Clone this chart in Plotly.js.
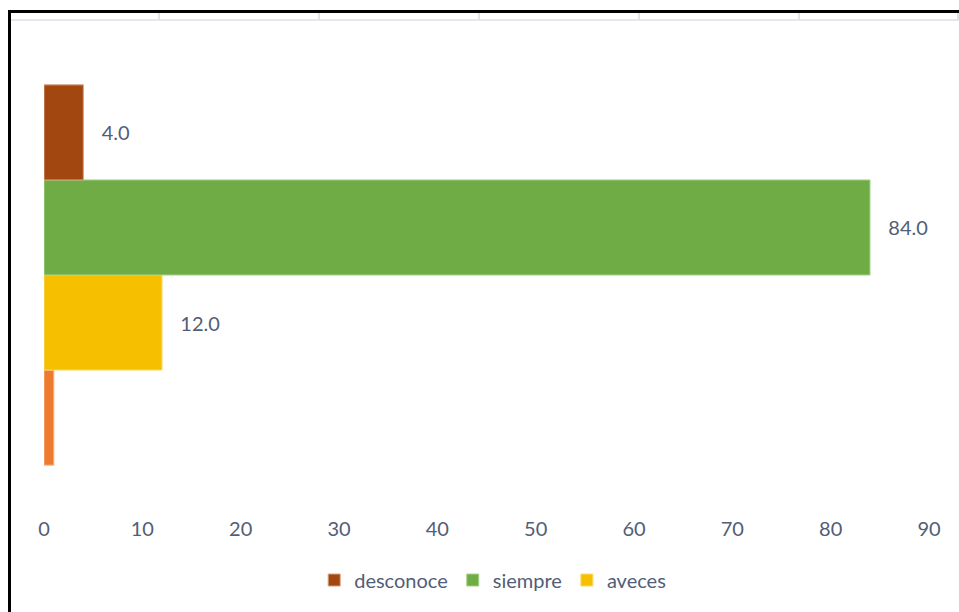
<!DOCTYPE html>
<html>
<head>
<meta charset="utf-8">
<script src="https://cdn.plot.ly/plotly-3.0.1.min.js"></script>
<style>
  html, body { margin: 0; padding: 0; background: #ffffff; }
  #wrap { position: relative; width: 959px; height: 612px; overflow: hidden; }
  #chart { position: absolute; left: 0; top: 0; width: 959px; height: 612px; }
  #frame { position: absolute; left: 8px; top: 10px; width: 960px; height: 610px;
           border-top: 3px solid #000; border-left: 3px solid #000; pointer-events: none; }
  #strip { position: absolute; left: 11px; top: 13px; width: 948px; height: 6px;
           border-bottom: 2px solid #e4e8ee; pointer-events: none; }
  .cell { position: absolute; top: 13px; width: 2px; height: 7px; background: #e2e2e2; }
</style>
</head>
<body>
<div id="wrap">
  <div id="chart"></div>
  <div id="strip"></div>
  <div id="frame"></div>
</div>
<script>
// ---- data ----
var categories = ['respuesta'];
var seriesNames = ['desconoce', 'siempre', 'aveces', 'otro'];
var desconoce = [4.0];
var siempre = [84.0];
var aveces = [12.0];
var otro = [1.0];
var xTicks = [0, 10, 20, 30, 40, 50, 60, 70, 80, 90];

// decorative spreadsheet cells above the frame
[158, 318, 478, 638, 798, 957].forEach(function (x) {
  var d = document.createElement('div');
  d.className = 'cell';
  d.style.left = x + 'px';
  document.getElementById('wrap').appendChild(d);
});

var labelColor = '#525d77';
var pad = '\u00a0\u00a0\u00a0';
function fmt(arr) { return arr.map(function (v) { return pad + v.toFixed(1); }); }

function bar(name, vals, color, line, showLabel, showLegend) {
  return {
    type: 'bar',
    orientation: 'h',
    name: name,
    y: categories,
    x: vals,
    marker: { color: color, line: { color: line, width: 1 } },
    text: showLabel ? fmt(vals) : null,
    textposition: showLabel ? 'outside' : 'none',
    textfont: { family: 'Lato, sans-serif', size: 20, color: labelColor },
    cliponaxis: false,
    showlegend: showLegend,
    hoverinfo: 'x+name'
  };
}

// bottom-to-top order in the group
var traces = [
  bar(seriesNames[3], otro, '#ee7a2f', '#f6b48a', false, false),
  bar(seriesNames[2], aveces, '#f6c000', '#fbd96a', true, true),
  bar(seriesNames[1], siempre, '#6fac46', '#a6d18a', true, true),
  bar(seriesNames[0], desconoce, '#a2470f', '#d6a080', true, true)
];

var layout = {
  width: 959,
  height: 612,
  paper_bgcolor: 'rgba(0,0,0,0)',
  plot_bgcolor: 'rgba(0,0,0,0)',
  margin: { l: 44, r: 30, t: 40, b: 102 },
  barmode: 'group',
  bargap: 0,
  bargroupgap: 0,
  font: { family: 'Lato, sans-serif', size: 20, color: labelColor },
  xaxis: {
    range: [0, 90],
    tickvals: xTicks,
    ticktext: xTicks.map(String),
    showgrid: false,
    zeroline: false,
    showline: false,
    ticks: '',
    ticklabelstandoff: 5,
    tickfont: { family: 'Lato, sans-serif', size: 20, color: labelColor },
    fixedrange: true
  },
  yaxis: {
    range: [-0.618, 0.618],
    showticklabels: false,
    showgrid: false,
    zeroline: false,
    showline: false,
    ticks: '',
    fixedrange: true
  },
  showlegend: true,
  legend: {
    orientation: 'h',
    traceorder: 'reversed',
    x: 0.507,
    xanchor: 'center',
    y: -0.149,
    yanchor: 'middle',
    font: { family: 'Lato, sans-serif', size: 20, color: labelColor },
    itemwidth: 30,
    bgcolor: 'rgba(0,0,0,0)'
  }
};

Plotly.newPlot('chart', traces, layout, { displayModeBar: false, staticPlot: true });
</script>
</body>
</html>
